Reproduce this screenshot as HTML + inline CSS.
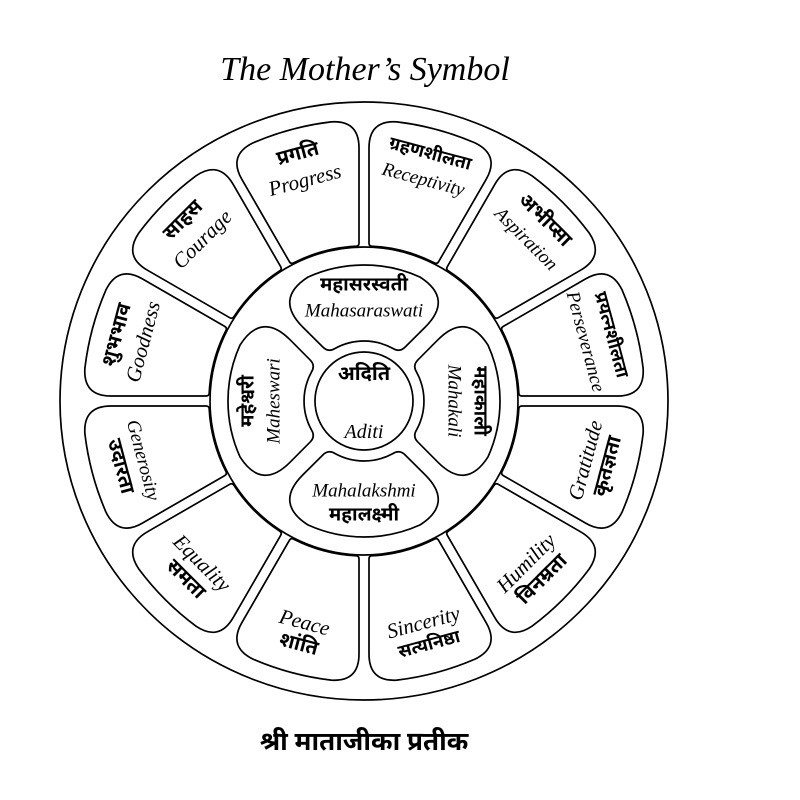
<!DOCTYPE html>
<html><head><meta charset="utf-8"><style>
html,body{margin:0;padding:0;background:#fff;}
svg{display:block}
.e{font-family:"Liberation Serif",serif;font-style:italic;fill:#000}
.d{font-family:"Noto Sans Devanagari","Lohit Devanagari","Liberation Sans",sans-serif;font-weight:bold;fill:#000}
</style></head><body>
<svg id="s" width="800" height="800" viewBox="0 0 800 800" xmlns="http://www.w3.org/2000/svg">
<rect width="800" height="800" fill="#fff"/>
<text x="365" y="80" text-anchor="middle" class="e" font-size="34" font-family="Liberation Serif">The Mother’s Symbol</text>
<ellipse cx="364" cy="401" rx="304" ry="299" fill="none" stroke="#000" stroke-width="1.7"/>
<circle cx="364" cy="401" r="154" fill="none" stroke="#000" stroke-width="1.7"/>
<circle cx="364" cy="401" r="49" fill="none" stroke="#000" stroke-width="1.7"/>
<g id="g"></g>
<text x="364" y="380" text-anchor="middle" class="d" font-size="20">अदिति</text>
<text x="364" y="438" text-anchor="middle" class="e" font-size="20">Aditi</text>
<text x="364" y="750" text-anchor="middle" class="d" font-size="26">श्री माताजीका प्रतीक</text>
</svg>
<script>
var cx=364,cy=401,g=document.getElementById('g'),NS='http://www.w3.org/2000/svg';
function P(r,a){return [cx+r*Math.cos(a),cy+r*Math.sin(a)];}
function side(a,s,gap,t){return [cx+t*Math.cos(a)-s*gap*Math.sin(a),cy+t*Math.sin(a)+s*gap*Math.cos(a)];}
function f(p){return p[0].toFixed(1)+' '+p[1].toFixed(1);}
function petal(a0,a1,r1,r2,gap,dO,dI){
 var tO=Math.sqrt(r2*r2-gap*gap),tI=Math.sqrt(r1*r1-gap*gap);
 var oa0=a0+Math.asin(gap/r2),oa1=a1-Math.asin(gap/r2),ia0=a0+Math.asin(gap/r1),ia1=a1-Math.asin(gap/r1);
 var d='M'+f(side(a0,1,gap,tI+dI))+' L'+f(side(a0,1,gap,tO-dO))+' Q'+f(side(a0,1,gap,tO))+' '+f(P(r2,oa0+dO/r2))
 +' A'+r2+' '+r2+' 0 0 1 '+f(P(r2,oa1-dO/r2))+' Q'+f(side(a1,-1,gap,tO))+' '+f(side(a1,-1,gap,tO-dO))
 +' L'+f(side(a1,-1,gap,tI+dI))+' Q'+f(side(a1,-1,gap,tI))+' '+f(P(r1,ia1-dI/r1))
 +' A'+r1+' '+r1+' 0 0 0 '+f(P(r1,ia0+dI/r1))+' Q'+f(side(a0,1,gap,tI))+' '+f(side(a0,1,gap,tI+dI))+' Z';
 var p=document.createElementNS(NS,'path');p.setAttribute('d',d);p.setAttribute('fill','none');p.setAttribute('stroke','#000');p.setAttribute('stroke-width','1.7');g.appendChild(p);
}
function lab(txt,cls,size,r,deg){
 var a=deg*Math.PI/180,p=P(r,a),rot=Math.sin(a)<-0.01?deg+90:(Math.sin(a)>0.01?deg-90:(Math.cos(a)>0?90:-90));
 var t=document.createElementNS(NS,'text');t.setAttribute('class',cls);t.setAttribute('font-size',size);
 t.setAttribute('text-anchor','middle');t.setAttribute('dominant-baseline','central');
 t.setAttribute('transform','translate('+p[0].toFixed(1)+','+p[1].toFixed(1)+') rotate('+rot+')');t.textContent=txt;g.appendChild(t);
}
var R=Math.PI/180;
var outer=[[-105,'प्रगति','Progress'],[-75,'ग्रहणशीलता','Receptivity'],[-45,'अभीप्सा','Aspiration'],[-15,'प्रयत्नशीलता','Perseverance'],
[15,'कृतज्ञता','Gratitude'],[45,'विनम्रता','Humility'],[75,'सत्यनिष्ठा','Sincerity'],[105,'शांति','Peace'],
[135,'समता','Equality'],[165,'उदारता','Generosity'],[195,'शुभभाव','Goodness'],[225,'साहस','Courage']];
outer.forEach(function(o){var c=o[0];petal((c-15)*R,(c+15)*R,155,281,5,28,3);
 lab(o[1],'d',o[1].length>8?18:20,254,c);lab(o[2],'e',o[2].length>9?19:21,229,c);});
var inner=[[-90,'महासरस्वती','Mahasaraswati'],[0,'महाकाली','Mahakali'],[90,'महालक्ष्मी','Mahalakshmi'],[180,'महेश्वरी','Maheswari']];
inner.forEach(function(o){var c=o[0];petal((c-45)*R,(c+45)*R,60,136,9,40,8);
 lab(o[1],'d',19,115,c);lab(o[2],'e',19,90,c);});
</script>
</body></html>
